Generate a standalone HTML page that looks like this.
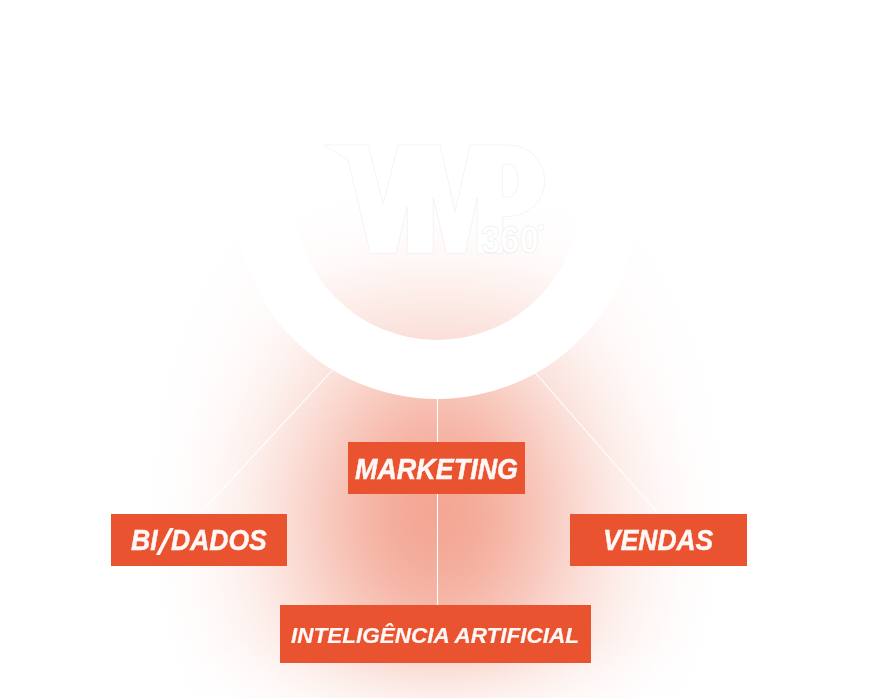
<!DOCTYPE html>
<html lang="pt-BR">
<head>
<meta charset="utf-8">
<title>VMP 360</title>
<style>
  html, body { margin: 0; padding: 0; background: #ffffff; }
  body { width: 872px; height: 698px; position: relative; overflow: hidden;
         font-family: "Liberation Sans", sans-serif; }
  .stage { position: absolute; left: 0; top: 0; width: 872px; height: 698px; overflow: hidden; background: #fff; }
  .glow { position: absolute; left: 0; top: 0; width: 872px; height: 698px;
    background: radial-gradient(ellipse 288px 384px at 437px 505px, rgba(233,83,47,0.4100) 0.00%, rgba(233,83,47,0.4068) 4.17%, rgba(233,83,47,0.3974) 8.33%, rgba(233,83,47,0.3822) 12.50%, rgba(233,83,47,0.3618) 16.67%, rgba(233,83,47,0.3373) 20.83%, rgba(233,83,47,0.3095) 25.00%, rgba(233,83,47,0.2796) 29.17%, rgba(233,83,47,0.2487) 33.33%, rgba(233,83,47,0.2177) 37.50%, rgba(233,83,47,0.1877) 41.67%, rgba(233,83,47,0.1593) 45.83%, rgba(233,83,47,0.1331) 50.00%, rgba(233,83,47,0.1095) 54.17%, rgba(233,83,47,0.0887) 58.33%, rgba(233,83,47,0.0707) 62.50%, rgba(233,83,47,0.0555) 66.67%, rgba(233,83,47,0.0429) 70.83%, rgba(233,83,47,0.0326) 75.00%, rgba(233,83,47,0.0244) 79.17%, rgba(233,83,47,0.0180) 83.33%, rgba(233,83,47,0.0131) 87.50%, rgba(233,83,47,0.0093) 91.67%, rgba(233,83,47,0.0066) 95.83%, rgba(233,83,47,0.0000) 100.00%),
      radial-gradient(ellipse 290px 290px at 437px 540px, rgba(233,83,47,0.1800) 0.00%, rgba(233,83,47,0.1792) 4.17%, rgba(233,83,47,0.1769) 8.33%, rgba(233,83,47,0.1731) 12.50%, rgba(233,83,47,0.1679) 16.67%, rgba(233,83,47,0.1614) 20.83%, rgba(233,83,47,0.1536) 25.00%, rgba(233,83,47,0.1448) 29.17%, rgba(233,83,47,0.1350) 33.33%, rgba(233,83,47,0.1244) 37.50%, rgba(233,83,47,0.1133) 41.67%, rgba(233,83,47,0.1017) 45.83%, rgba(233,83,47,0.0900) 50.00%, rgba(233,83,47,0.0783) 54.17%, rgba(233,83,47,0.0667) 58.33%, rgba(233,83,47,0.0556) 62.50%, rgba(233,83,47,0.0450) 66.67%, rgba(233,83,47,0.0352) 70.83%, rgba(233,83,47,0.0264) 75.00%, rgba(233,83,47,0.0186) 79.17%, rgba(233,83,47,0.0121) 83.33%, rgba(233,83,47,0.0069) 87.50%, rgba(233,83,47,0.0031) 91.67%, rgba(233,83,47,0.0008) 95.83%, rgba(233,83,47,0.0000) 100.00%); }
  .fade { position: absolute; left: 0; top: 640px; width: 872px; height: 58px;
    background: linear-gradient(to bottom, rgba(255,255,255,0) 0%, rgba(255,255,255,0.55) 100%); }
  svg.art { position: absolute; left: 0; top: 0; }
  .box { position: absolute; background: #e9532f; }
  .labels { position: absolute; left: 0; top: 0; width: 872px; height: 698px; will-change: transform; }
  .lbl { position: absolute; color: #fff8f6; font-weight: bold; font-style: italic; white-space: nowrap;
         line-height: 1; transform-origin: 0 0; -webkit-text-stroke: 0.45px #fff8f6; }
  .slash { position: absolute; left: 162.6px; top: 528.4px; width: 3.8px; height: 26.6px; background: #fff8f6;
           transform: skewX(-27.4deg); }
</style>
</head>
<body>
<div class="stage">
  <div class="glow"></div>
  <div class="fade"></div>

  <svg class="art" width="872" height="698" viewBox="0 0 872 698">
    <!-- connector lines -->
    <g stroke="#ffffff" stroke-width="1.1" fill="none">
      <line x1="437.5" y1="395" x2="437.5" y2="606"/>
      <line x1="333.3" y1="369" x2="199" y2="514.8"/>
      <line x1="531.1" y1="368" x2="659.1" y2="514.8"/>
    </g>
    <!-- white ring + inner disc -->
    <defs>
      <radialGradient id="inner" gradientUnits="userSpaceOnUse" cx="437" cy="640" r="460">
        <stop offset="0" stop-color="#e9532f" stop-opacity="0.19"/>
        <stop offset="0.652" stop-color="#e9532f" stop-opacity="0.19"/>
        <stop offset="0.696" stop-color="#e9532f" stop-opacity="0.150"/>
        <stop offset="0.739" stop-color="#e9532f" stop-opacity="0.115"/>
        <stop offset="0.772" stop-color="#e9532f" stop-opacity="0.086"/>
        <stop offset="0.804" stop-color="#e9532f" stop-opacity="0.060"/>
        <stop offset="0.841" stop-color="#e9532f" stop-opacity="0.036"/>
        <stop offset="0.891" stop-color="#e9532f" stop-opacity="0.015"/>
        <stop offset="0.957" stop-color="#e9532f" stop-opacity="0.004"/>
        <stop offset="1" stop-color="#e9532f" stop-opacity="0"/>
      </radialGradient>
    </defs>
    <circle cx="437" cy="197" r="202" fill="#ffffff"/>
    <circle cx="437" cy="197" r="143" fill="url(#inner)"/>
    <!-- logo (white on near-white) -->
    <g fill="#ffffff" stroke="#ebe9e8" stroke-width="0.5" stroke-linejoin="miter">
      <path d="M324,145 H368.2 L383.2,204.2 L398.2,145 H440.2 L455.1,212.2 L470.1,145 H509
               A35.7,35.7 0 0 1 509,216.4 H502.7 V253.3 H477.2 V198 L465.2,253.3 H446.4 L433.3,197.2 V253.3 H407.3 V207.2 H406.8
               L396.2,253.3 H370.2 L348.1,160.1 Z
               M502.6,164.1 H509 A9.2,16.55 0 0 1 509,197.2 H502.6 Z" fill-rule="evenodd"/>
      <text x="481" y="253.3" font-family="Liberation Sans, sans-serif" font-weight="bold" font-size="38" textLength="58" lengthAdjust="spacingAndGlyphs">360</text>
      <circle cx="541" cy="227.5" r="3.2"/>
    </g>
  </svg>

  <div class="box" style="left:348.2px; top:442.2px; width:176.8px; height:51.5px;"></div>
  <div class="box" style="left:110.6px; top:514.4px; width:176.4px; height:51.8px;"></div>
  <div class="box" style="left:570.4px; top:514.4px; width:176.6px; height:51.8px;"></div>
  <div class="box" style="left:280.2px; top:605.25px; width:310.9px; height:57.45px;"></div>

  <div class="labels">
  <div class="lbl" id="t1" style="left:354.9px; top:454.8px; font-size:28.6px; transform:scaleX(0.9415);">MARKETING</div>
  <div class="lbl" id="t2a" style="left:130.5px; top:526.3px; font-size:28.6px; transform:scaleX(0.93);">BI</div>
  <div class="slash"></div>
  <div class="lbl" id="t2b" style="left:171px; top:526.3px; font-size:28.6px; transform:scaleX(0.927);">DADOS</div>
  <div class="lbl" id="t3" style="left:603.4px; top:526.4px; font-size:28.6px; transform:scaleX(0.925);">VENDAS</div>
  <div class="lbl" id="t4" style="left:291.1px; top:624.7px; font-size:22.5px; transform:scaleX(1.0); -webkit-text-stroke-width:0.2px;">INTELIGÊNCIA ARTIFICIAL</div>
  </div>
</div>
</body>
</html>
